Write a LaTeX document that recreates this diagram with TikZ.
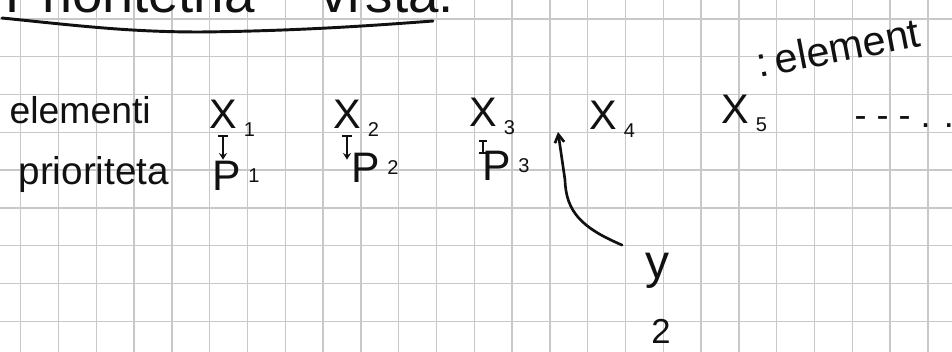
\documentclass[tikz,border=0pt]{standalone}
\usepackage{fontspec}
\setmainfont{Liberation Sans}
\usetikzlibrary{arrows.meta}
\definecolor{ink}{HTML}{111111}
\definecolor{gridgray}{HTML}{C8C8C8}
\tikzset{
  gridline/.style={draw=gridgray, line width=1pt},
  hand/.style={
    font=\fontsize{#1}{#1}\selectfont, text=ink,
    inner sep=1pt
  },
  hand/.default=31pt,
  idx/.style={
    font=\fontsize{15pt}{15pt}\selectfont, text=ink,
    anchor=west, inner sep=1pt, xshift=3pt
  },
  prioarrow/.style={
    {Bar[width=7pt]}-{Stealth[length=5pt,width=6pt]},
    draw=ink, line width=1.6pt, shorten <=4pt
  },
  insarrow/.style={
    -{Straight Barb[length=6pt,width=7pt]}, draw=ink,
    line width=2pt, line cap=round
  },
  inkline/.style={draw=ink, line width=2.2pt, line cap=round},
}
\begin{document}
\begin{tikzpicture}[x=0.75pt, y=-0.75pt]
  \useasboundingbox (0,0) rectangle (952,352);
  \fill[white] (0,0) rectangle (952,352);
  \clip (0,0) rectangle (952,352);

  % squared paper
  \foreach \gx in {0,...,24}
    \draw[gridline] ({20.7+37.8*\gx},0) -- ({20.7+37.8*\gx},352);
  \foreach \gy in {0,...,8}
    \draw[gridline] (0,{18.9+37.8*\gy}) -- (952,{18.9+37.8*\gy});

  % heading, cut at the top of the page
  \node[hand=41pt, anchor=base west] (title) at (4,13)
    {Prioritetna\hspace{1.2em}vrsta:};
  \draw[inkline] (2,18) .. controls (80,26) and (130,32) .. (200,32)
    .. controls (300,31) and (380,25) .. (433,21);

  % row labels
  \node[hand=28pt, anchor=base west] (elem) at (8,124) {elementi};
  \node[hand=29pt, anchor=base west] (prio) at (17,185) {prioriteta};

  % elements
  \node[hand, label={[idx]south east:1}] (x1) at (223,114) {X};
  \node[hand, label={[idx]south east:2}] (x2) at (347,114) {X};
  \node[hand, label={[idx]south east:3}] (x3) at (483,112) {X};
  \node[hand, label={[idx]south east:4}] (x4) at (603,115) {X};
  \node[hand, label={[idx]south east:5}] (x5) at (735,109) {X};
  \node[hand=27pt, anchor=base west] (more) at (853,128) {- - - . .};
  \node[hand, anchor=base west, rotate=11] (note) at (758,78) {:\,element};

  % priorities
  \node[hand=32pt, label={[idx]east:1}] (p1) at (227,176) {P};
  \node[hand=32pt, label={[idx]east:2}] (p2) at (366,168) {P};
  \node[hand=32pt, label={[idx]east:3}] (p3) at (497,166) {P};

  \draw[prioarrow] (x1.south) -- (x1.south |- p1.north);
  \draw[prioarrow] (x2.south) -- ([yshift=-6pt]x2.south |- p2.north);
  \draw[prioarrow, {Bar[width=6pt]}-{Bar[width=6pt]}, shorten <=9pt]
    (x3.south) -- ([yshift=-3pt]x3.south |- p3.north);

  % new element goes in between
  \node[hand=36pt] (y) at (657,271) {y};
  \node[hand=26pt] (two) at (661,331) {2};
  \coordinate (ins) at (558,132);
  \draw[insarrow] ([xshift=-16pt,yshift=5pt]y.north west)
    .. controls (582,228) and (566,212) .. (565,180) -- (ins);
\end{tikzpicture}
\end{document}
